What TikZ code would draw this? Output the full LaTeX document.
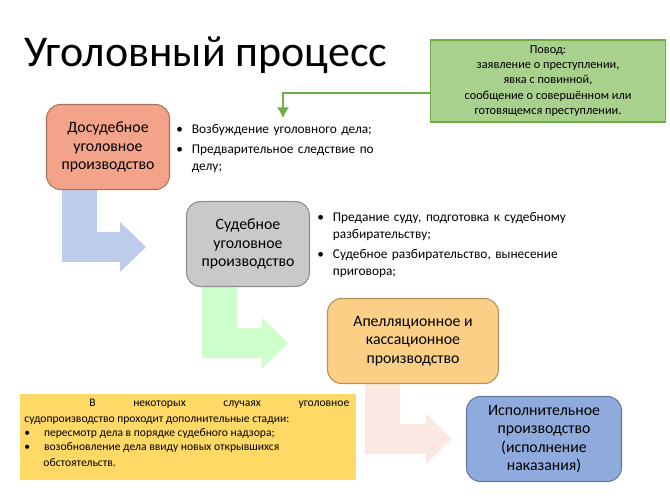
\documentclass[tikz,border=0pt]{standalone}
\usepackage{fontspec}
\setmainfont{Carlito}
\usetikzlibrary{positioning}
\usetikzlibrary{arrows.meta}
\usetikzlibrary{calc}

\definecolor{stageA}{HTML}{F2A38A}
\definecolor{stageB}{HTML}{C9C9C9}
\definecolor{stageC}{HTML}{FBCF86}
\definecolor{stageD}{HTML}{8FAADC}
\definecolor{reasonfill}{HTML}{A9D18E}
\definecolor{reasonline}{HTML}{70AD47}
\definecolor{notefill}{HTML}{FFD966}

\begin{document}
\begin{tikzpicture}[x=0.02cm, y=-0.02cm,
    stage/.style={align=center, rectangle, rounded corners=8pt, draw=#1!70!black, fill=#1, line width=0.6pt, minimum width=2.46cm, minimum height=1.7cm, font=\fontsize{9}{10.5}\selectfont},
    bullets/.style={align=left, anchor=north west, text width=#1, font=\fontsize{7.6}{9.5}\selectfont, inner sep=0pt}
]
    \useasboundingbox (0,0) rectangle (670,503);

    % Title
    \node[anchor=west, font=\fontsize{25}{28}\selectfont] (title) at (18,55) {Уголовный процесс};

    % Bent arrows between the stages
    \fill[stageD!60] (62,190) -- (97,190) -- (97,232) -- (120,232) -- (120,222) -- (146,247) -- (120,272) -- (120,262) -- (62,262) -- cycle;
    \fill[green!20] (202,287) -- (237,287) -- (237,328) -- (262,328) -- (262,318) -- (288,343) -- (262,368) -- (262,358) -- (202,358) -- cycle;
    \fill[stageA!25] (365,384) -- (400,384) -- (400,424) -- (426,424) -- (426,414) -- (452,439) -- (426,464) -- (426,454) -- (365,454) -- cycle;

    % Stages
    \node[stage=stageA] (S1) at (108,147) {Досудебное\\уголовное\\производство};
    \node[stage=stageB] (S2) at (248,244) {Судебное\\уголовное\\производство};
    \node[stage=stageC, minimum width=3.42cm] (S3) at (413,341) {Апелляционное и\\кассационное\\производство};
    \node[stage=stageD, minimum width=3.1cm] (S4) at (544,439) {Исполнительное\\производство\\(исполнение\\наказания)};

    % Stage contents
    \node[bullets=4.3cm] (B1) at (176,124) {\textbullet\ \ Возбуждение уголовного дела;\\[2pt]\textbullet\ \ Предварительное следствие по\\\phantom{\textbullet\ \ }делу;};
    \node[bullets=5.3cm] (B2) at (317,212) {\textbullet\ \ Предание суду, подготовка к судебному\\\phantom{\textbullet\ \ }разбирательству;\\[2pt]\textbullet\ \ Судебное разбирательство, вынесение\\\phantom{\textbullet\ \ }приговора;};

    % Reason
    \node[draw=reasonline, fill=reasonfill, line width=0.8pt, minimum width=4.7cm, minimum height=1.58cm, align=center, font=\fontsize{7}{8.6}\selectfont] (R) at (548,81) {Повод:\\заявление о преступлении,\\явка с повинной,\\сообщение о совершённом или\\готовящемся преступлении.};
    \coordinate (RT) at (283,118);
    \draw[reasonline, line width=1.3pt, -{Latex[length=6pt,width=7pt]}] (R.west |- 0,93) -| (RT);

    % Additional stages
    \node[fill=notefill, minimum width=6.72cm, minimum height=1.72cm] (N) at (188,437) {};
    \node[anchor=north west, align=justify, text width=6.5cm, inner sep=0pt, font=\fontsize{6.6}{9}\selectfont] (NT) at (24,399)
        {\hspace*{1.3cm}В\hfill некоторых\hfill случаях\hfill уголовное\\судопроизводство проходит дополнительные стадии:\\[-1pt]
        \textbullet\hspace{1.2em}пересмотр дела в порядке судебного надзора;\\[-1pt]
        \textbullet\hspace{1.2em}возобновление дела ввиду новых открывшихся\\\hspace*{1.65em}обстоятельств.};
\end{tikzpicture}
\end{document}
